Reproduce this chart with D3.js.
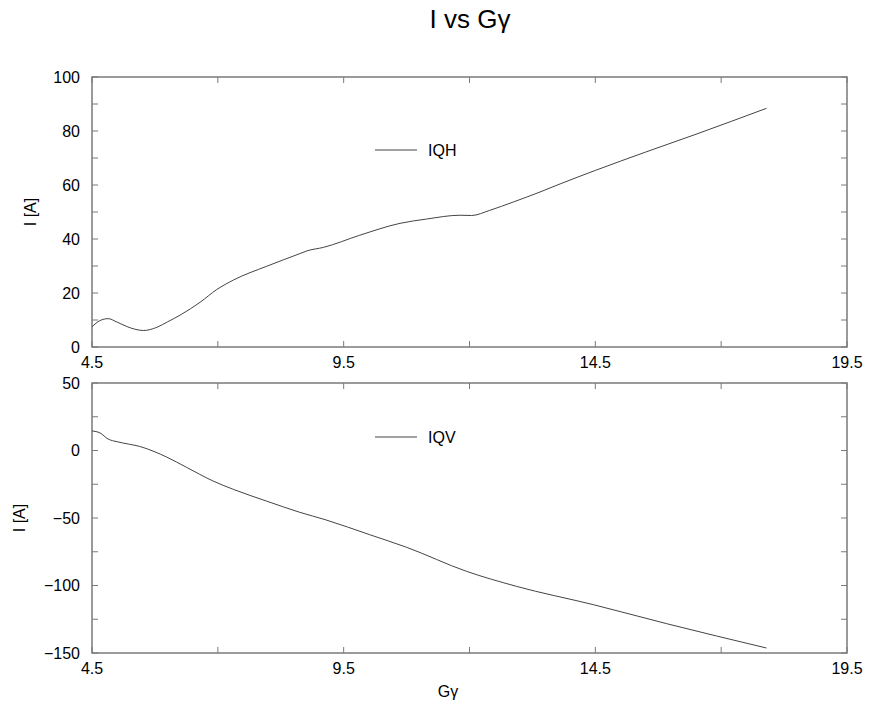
<!DOCTYPE html>
<html>
<head>
<meta charset="utf-8">
<script src="https://cdn.jsdelivr.net/npm/d3@7"></script>
<style>
  html, body { margin: 0; padding: 0; background: #fff; }
  svg text { font-family: "Liberation Sans", Arial, Helvetica, sans-serif; fill: #000; }
</style>
</head>
<body>
<svg id="chart" width="869" height="711"></svg>
<script>
// Gγ sample positions and currents for the horizontal corrector (IQH)
const gammaH = [4.5, 4.66, 4.82, 5.0, 5.19, 5.35, 5.52, 5.79, 6.0, 6.25, 6.65, 6.98, 7.31, 7.97,
                8.63, 8.77, 9.10, 9.82, 10.62, 11.15, 11.81, 12.04, 12.4, 12.87, 13.40, 13.80,
                14.5, 15.5, 16.5, 17.9];
const currentH = [7.5, 9.8, 10.5, 9.2, 7.6, 6.6, 6.1, 7.3, 9.3, 11.8, 16.6, 21.3, 24.8, 29.9,
                  34.6, 35.6, 36.9, 41.4, 45.8, 47.4, 48.8, 48.7, 50.6, 53.7, 57.4, 60.4,
                  65.4, 72.2, 78.8, 88.4];

// Gγ sample positions and currents for the vertical corrector (IQV)
const gammaV = [4.5, 4.66, 4.82, 5.0, 5.22, 5.45, 5.75, 5.98, 6.38, 6.9, 7.31, 7.97, 8.63,
                9.13, 10.02, 10.75, 11.94, 12.93, 14.46, 15.92, 17.9];
const currentV = [14.5, 13.0, 8.5, 6.5, 4.8, 3.0, -1.0, -4.8, -12.5, -22.5, -28.8, -37.5, -45.8,
                  -51.2, -62.4, -71.7, -89.5, -100.6, -114.2, -128.3, -146.3];

// Axis ticks
const xTicks = [4.5, 7.0, 9.5, 12.0, 14.5, 17.0, 19.5];
const xTickLabels = [4.5, 9.5, 14.5, 19.5];
const yTicksH = [0, 10, 20, 30, 40, 50, 60, 70, 80, 90, 100];
const yTickLabelsH = [0, 20, 40, 60, 80, 100];
const yTicksV = [-150, -125, -100, -75, -50, -25, 0, 25, 50];
const yTickLabelsV = [-150, -100, -50, 0, 50];

const svg = d3.select("#chart");
const left = 92, right = 847;
const frameColor = "#7a7a7a";
const lineColor = "#444";
const tickLen = 6;
const minus = v => (v < 0 ? "\u2212" + Math.abs(v) : String(v));

svg.append("text")
  .attr("x", 470).attr("y", 28)
  .attr("text-anchor", "middle")
  .attr("font-size", 26)
  .text("I vs G\u03b3");

function panel(opts) {
  const x = d3.scaleLinear().domain([4.5, 19.5]).range([left, right]);
  const y = d3.scaleLinear().domain(opts.yDomain).range([opts.bottom, opts.top]);
  const g = svg.append("g");

  // ticks pointing inward on all four sides
  const ticks = g.append("g").attr("stroke", frameColor).attr("stroke-width", 1);
  xTicks.forEach(t => {
    ticks.append("line").attr("x1", x(t)).attr("x2", x(t))
      .attr("y1", opts.bottom).attr("y2", opts.bottom - tickLen);
    ticks.append("line").attr("x1", x(t)).attr("x2", x(t))
      .attr("y1", opts.top).attr("y2", opts.top + tickLen);
  });
  opts.yTicks.forEach(t => {
    ticks.append("line").attr("x1", left).attr("x2", left + tickLen)
      .attr("y1", y(t)).attr("y2", y(t));
    ticks.append("line").attr("x1", right).attr("x2", right - tickLen)
      .attr("y1", y(t)).attr("y2", y(t));
  });

  g.append("rect")
    .attr("x", left).attr("y", opts.top)
    .attr("width", right - left).attr("height", opts.bottom - opts.top)
    .attr("fill", "none").attr("stroke", frameColor).attr("stroke-width", 1.5);

  // tick labels
  g.selectAll(".xl").data(xTickLabels).enter().append("text")
    .attr("x", d => x(d)).attr("y", opts.bottom + 21)
    .attr("text-anchor", "middle").attr("font-size", 16)
    .text(d => d.toFixed(1));
  g.selectAll(".yl").data(opts.yLabels).enter().append("text")
    .attr("x", left - 12).attr("y", d => y(d)).attr("dy", "0.36em")
    .attr("text-anchor", "end").attr("font-size", 16)
    .text(d => minus(d));

  // y axis title
  g.append("text")
    .attr("transform", `translate(${opts.yTitleX},${(opts.top + opts.bottom) / 2}) rotate(-90)`)
    .attr("text-anchor", "middle").attr("font-size", 16)
    .text("I [A]");

  // data curve
  const line = d3.line().x(d => x(d[0])).y(d => y(d[1])).curve(d3.curveMonotoneX);
  g.append("path")
    .datum(d3.zip(opts.xs, opts.ys))
    .attr("d", line)
    .attr("fill", "none").attr("stroke", lineColor).attr("stroke-width", 1);

  // legend
  g.append("line")
    .attr("x1", 375).attr("x2", 417)
    .attr("y1", opts.legendY).attr("y2", opts.legendY)
    .attr("stroke", lineColor).attr("stroke-width", 1);
  g.append("text")
    .attr("x", 428).attr("y", opts.legendY).attr("dy", "0.36em")
    .attr("font-size", 16)
    .text(opts.name);
}

panel({
  top: 77, bottom: 347, yDomain: [0, 100],
  yTicks: yTicksH, yLabels: yTickLabelsH,
  xs: gammaH, ys: currentH, name: "IQH", legendY: 150, yTitleX: 36
});

panel({
  top: 383, bottom: 653, yDomain: [-150, 50],
  yTicks: yTicksV, yLabels: yTickLabelsV,
  xs: gammaV, ys: currentV, name: "IQV", legendY: 437, yTitleX: 25
});

svg.append("text")
  .attr("x", 448).attr("y", 697)
  .attr("text-anchor", "middle").attr("font-size", 16)
  .text("G\u03b3");
</script>
</body>
</html>
